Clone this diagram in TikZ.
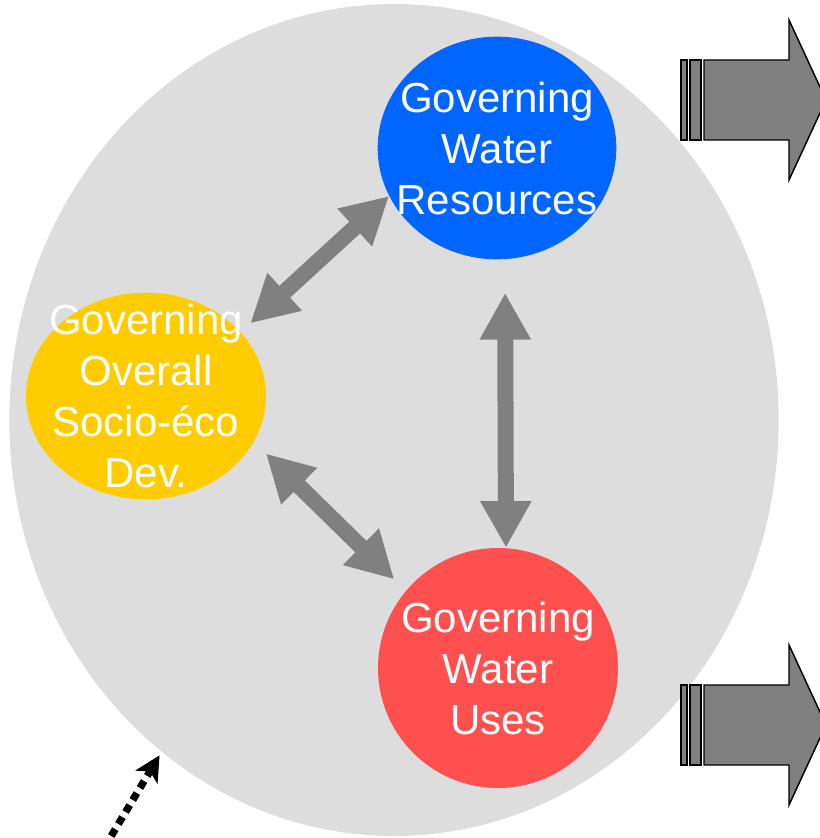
\documentclass[tikz,border=0pt]{standalone}
\usepackage{fontspec}
\setmainfont{Liberation Sans}
\usetikzlibrary{shapes.geometric, arrows.meta, positioning}

\definecolor{basingrey}{HTML}{DDDDDD}
\definecolor{resblue}{HTML}{0066FF}
\definecolor{socioyellow}{HTML}{FFCC00}
\definecolor{usered}{HTML}{FF5050}
\definecolor{linkgrey}{HTML}{808080}

\begin{document}
\begin{tikzpicture}[x=0.75pt, y=-0.75pt,
    govshape/.style={ellipse, inner sep=0pt},
    govtext/.style={text=white, align=center, inner sep=0pt, font=\fontsize{31.5}{38.25}\selectfont},
    biarrow/.style={draw=linkgrey, line width=12pt, {Triangle[length=35pt, width=36pt]}-{Triangle[length=35pt, width=36pt]}},
    outflow/.style={draw=black, line width=1.1pt, fill=linkgrey}]
    \useasboundingbox (0,0) rectangle (819,838);
    % Basin
    \node[govshape, fill=basingrey, minimum width=577pt, minimum height=624pt] (basin) at (394,420) {};
    % Governing spheres
    \node[govshape, fill=resblue, minimum width=179pt, minimum height=167pt,
        label={[govtext]center:{Governing\\Water\\Resources}}] (wres) at (497,148) {};
    \node[govshape, fill=socioyellow, minimum width=180pt, minimum height=155pt,
        label={[govtext]center:{Governing\\Overall\\Socio-éco\\Dev.}}] (socio) at (146,396) {};
    \node[govshape, fill=usered, minimum width=180pt, minimum height=180pt,
        label={[govtext]center:{Governing\\Water\\Uses}}] (wuse) at (498,668) {};
    % Links between spheres
    \draw[biarrow, shorten <=9.8pt] (socio.34) -- (wres.204);
    \draw[biarrow, shorten <=12.6pt, shorten >=12.2pt] (socio.337) -- (wuse.140);
    \draw[biarrow, shorten <=25pt] ([xshift=6pt]wres.south) -- ([xshift=6pt]wuse.north);
    % Outflow, top
    \draw[outflow] (681,60) rectangle (687,140);
    \draw[outflow] (690,60) rectangle (701,140);
    \draw[outflow] (704,60) -- (789,60) -- (789,20) -- (826,100) -- (789,180) -- (789,140) -- (704,140) -- cycle;
    % Outflow, bottom
    \draw[outflow] (681,685) rectangle (687,765);
    \draw[outflow] (690,685) rectangle (701,765);
    \draw[outflow] (704,685) -- (789,685) -- (789,645) -- (826,725) -- (789,805) -- (789,765) -- (704,765) -- cycle;
    % Inflow
    \coordinate (inflow) at (104,848);
    \draw[line width=5.5pt, dash pattern=on 6pt off 4.5pt, -{Stealth[length=19pt, width=19pt, inset=5pt]},
        shorten >=3pt] (inflow) -- (basin.235);
\end{tikzpicture}
\end{document}
